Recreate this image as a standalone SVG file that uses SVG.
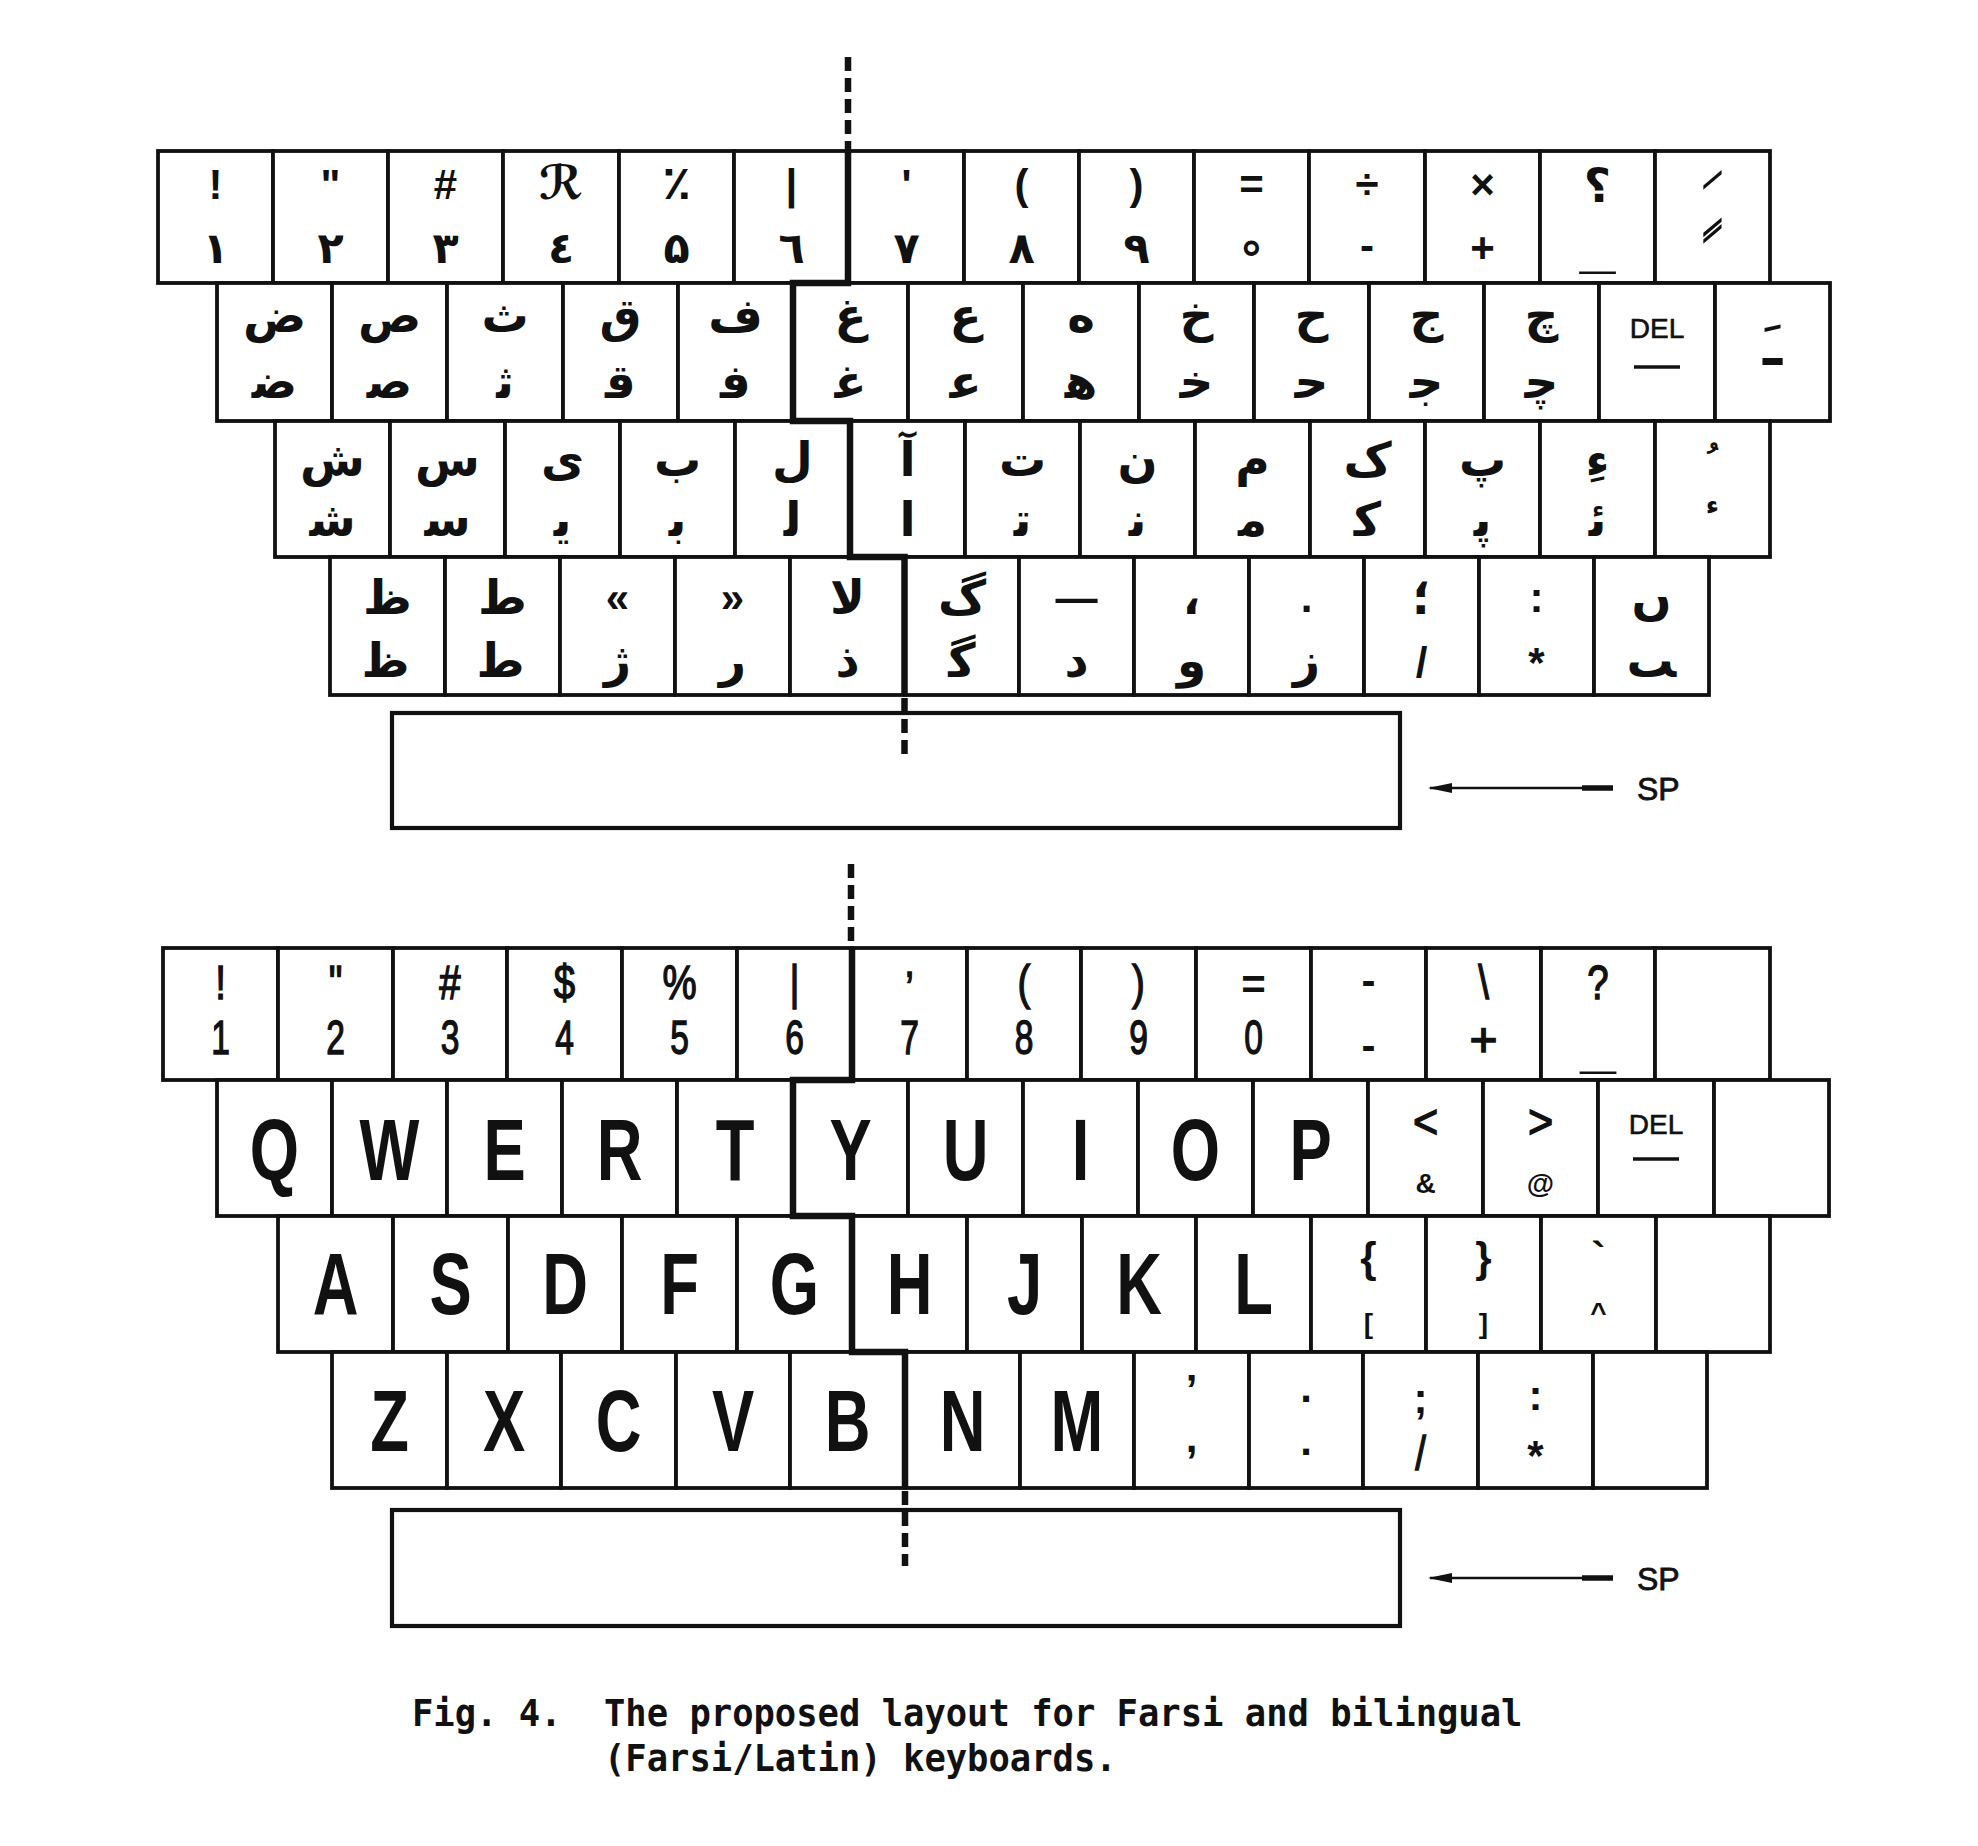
<svg xmlns="http://www.w3.org/2000/svg" width="1978" height="1846" viewBox="0 0 1978 1846">
<style>
.k{fill:#fff;stroke:#111;stroke-width:3.8}
.sb{fill:#fff;stroke:#111;stroke-width:4.2}
.ar{font-family:"DejaVu Sans",sans-serif;font-weight:bold;font-size:47px;text-anchor:middle;fill:#111}
.ad{font-family:"DejaVu Sans",sans-serif;font-weight:bold;font-size:43px;text-anchor:middle;fill:#111}
.mk{font-family:"DejaVu Sans",sans-serif;font-weight:bold;font-size:64px;text-anchor:middle;fill:#111}
.s{font-family:"Liberation Sans",Arial,sans-serif;font-weight:bold;font-size:42px;text-anchor:middle;fill:#111}
.L{font-family:"Liberation Sans",Arial,sans-serif;font-weight:bold;font-size:88px;text-anchor:middle;fill:#111}
.n{font-family:"Liberation Sans",Arial,sans-serif;font-size:48px;text-anchor:middle;fill:#111;stroke:#111;stroke-width:1.4}
.sm{font-family:"Liberation Sans",Arial,sans-serif;font-weight:bold;font-size:28px;text-anchor:middle;fill:#111}
.del{font-family:"Liberation Sans",Arial,sans-serif;font-size:28px;text-anchor:middle;fill:#111;stroke:#111;stroke-width:0.6}
.ul{stroke:#111;stroke-width:3.5}
.cap{font-family:"DejaVu Sans Mono","Liberation Mono",monospace;font-weight:bold;font-size:35.5px;fill:#111}
.spt{font-family:"Liberation Sans",Arial,sans-serif;font-size:32px;fill:#111;stroke:#111;stroke-width:0.8}
.div{fill:none;stroke:#111;stroke-width:6.5;stroke-linejoin:miter}
.dash{fill:none;stroke:#111;stroke-width:6.5;stroke-dasharray:14 7}
.arr{fill:none;stroke:#111;stroke-width:2.5}
.tail{stroke:#111;stroke-width:5.5}
</style>
<defs>
<marker id="ah" viewBox="0 0 24 12" refX="22" refY="6" markerWidth="24" markerHeight="12" markerUnits="userSpaceOnUse" orient="auto" preserveAspectRatio="none"><path d="M0,1 L24,6 L0,11 Z" fill="#111"/></marker>
</defs>

<!-- ================= TOP KEYBOARD (Farsi) ================= -->
<g id="top-keyboard">
<!-- Row 1 -->
<g id="t1-01"><rect class="k" x="158" y="151" width="115" height="132"/><text class="s" x="215.5" y="199">!</text><text class="ad" x="215.5" y="263">١</text></g>
<g id="t1-02"><rect class="k" x="273" y="151" width="115" height="132"/><text class="s" x="330.5" y="199">"</text><text class="ad" x="330.5" y="263">٢</text></g>
<g id="t1-03"><rect class="k" x="388" y="151" width="115" height="132"/><text class="s" x="445.5" y="199">#</text><text class="ad" x="445.5" y="263">٣</text></g>
<g id="t1-04"><rect class="k" x="503" y="151" width="116" height="132"/><text class="ar" x="561" y="199">ℛ</text><text class="ad" x="561" y="263">٤</text></g>
<g id="t1-05"><rect class="k" x="619" y="151" width="115" height="132"/><text class="ar" x="676.5" y="199">٪</text><text class="ad" x="676.5" y="263">۵</text></g>
<g id="t1-06"><rect class="k" x="734" y="151" width="115" height="132"/><text class="s" x="791.5" y="199">|</text><text class="ad" x="791.5" y="263">٦</text></g>
<g id="t1-07"><rect class="k" x="849" y="151" width="115" height="132"/><text class="s" x="906.5" y="199">'</text><text class="ad" x="906.5" y="263">٧</text></g>
<g id="t1-08"><rect class="k" x="964" y="151" width="115" height="132"/><text class="s" x="1021.5" y="199">(</text><text class="ad" x="1021.5" y="263">٨</text></g>
<g id="t1-09"><rect class="k" x="1079" y="151" width="115" height="132"/><text class="s" x="1136.5" y="199">)</text><text class="ad" x="1136.5" y="263">٩</text></g>
<g id="t1-10"><rect class="k" x="1194" y="151" width="115" height="132"/><text class="s" x="1251.5" y="199">=</text><text class="ar" x="1251.5" y="263">∘</text></g>
<g id="t1-11"><rect class="k" x="1309" y="151" width="116" height="132"/><text class="s" x="1367" y="199">÷</text><text class="s" x="1367" y="260">-</text></g>
<g id="t1-12"><rect class="k" x="1425" y="151" width="115" height="132"/><text class="s" x="1482.5" y="199">×</text><text class="s" x="1482.5" y="262">+</text></g>
<g id="t1-13"><rect class="k" x="1540" y="151" width="115" height="132"/><text class="ar" x="1597.5" y="202">؟</text><text class="s" x="1597.5" y="266" style="font-size:64px">_</text></g>
<g id="t1-14"><rect class="k" x="1655" y="151" width="115" height="132"/><text class="mk" transform="translate(1712.5,0) skewY(-32)"><tspan x="0" y="222">ﹶ</tspan><tspan x="0" y="276">ﹰ</tspan></text></g>
<!-- Row 2 -->
<g id="t2-01"><rect class="k" x="217" y="283" width="115" height="138"/><text class="ar" x="274.5" y="332">ض</text><text class="ar" x="274.5" y="398">ض&#x200D;</text></g>
<g id="t2-02"><rect class="k" x="332" y="283" width="115" height="138"/><text class="ar" x="389.5" y="332">ص</text><text class="ar" x="389.5" y="398">ص&#x200D;</text></g>
<g id="t2-03"><rect class="k" x="447" y="283" width="116" height="138"/><text class="ar" x="505" y="332">ث</text><text class="ar" x="505" y="398">ث&#x200D;</text></g>
<g id="t2-04"><rect class="k" x="563" y="283" width="115" height="138"/><text class="ar" x="620.5" y="332">ق</text><text class="ar" x="620.5" y="398">ق&#x200D;</text></g>
<g id="t2-05"><rect class="k" x="678" y="283" width="115" height="138"/><text class="ar" x="735.5" y="332">ف</text><text class="ar" x="735.5" y="398">ف&#x200D;</text></g>
<g id="t2-06"><rect class="k" x="793" y="283" width="115" height="138"/><text class="ar" x="850.5" y="332">غ</text><text class="ar" x="850.5" y="398">غ&#x200D;</text></g>
<g id="t2-07"><rect class="k" x="908" y="283" width="115" height="138"/><text class="ar" x="965.5" y="332">ع</text><text class="ar" x="965.5" y="398">ع&#x200D;</text></g>
<g id="t2-08"><rect class="k" x="1023" y="283" width="116" height="138"/><text class="ar" x="1081" y="332">ه</text><text class="ar" x="1081" y="398">ه&#x200D;</text></g>
<g id="t2-09"><rect class="k" x="1139" y="283" width="115" height="138"/><text class="ar" x="1196.5" y="332">خ</text><text class="ar" x="1196.5" y="398">خ&#x200D;</text></g>
<g id="t2-10"><rect class="k" x="1254" y="283" width="115" height="138"/><text class="ar" x="1311.5" y="332">ح</text><text class="ar" x="1311.5" y="398">ح&#x200D;</text></g>
<g id="t2-11"><rect class="k" x="1369" y="283" width="115" height="138"/><text class="ar" x="1426.5" y="332">ج</text><text class="ar" x="1426.5" y="398">ج&#x200D;</text></g>
<g id="t2-12"><rect class="k" x="1484" y="283" width="115" height="138"/><text class="ar" x="1541.5" y="332">چ</text><text class="ar" x="1541.5" y="398">چ&#x200D;</text></g>
<g id="t2-13"><rect class="k" x="1599" y="283" width="116" height="138"/><text class="del" x="1657" y="338">DEL</text><line class="ul" x1="1634" y1="367" x2="1680" y2="367"/></g>
<g id="t2-14"><rect class="k" x="1715" y="283" width="115" height="138"/><text class="ar" x="1772.5" y="365" style="font-size:56px">ـَ</text></g>
<!-- Row 3 -->
<g id="t3-01"><rect class="k" x="275" y="421" width="115" height="136"/><text class="ar" x="332.5" y="476">ش</text><text class="ar" x="332.5" y="536">ش&#x200D;</text></g>
<g id="t3-02"><rect class="k" x="390" y="421" width="115" height="136"/><text class="ar" x="447.5" y="476">س</text><text class="ar" x="447.5" y="536">س&#x200D;</text></g>
<g id="t3-03"><rect class="k" x="505" y="421" width="115" height="136"/><text class="ar" x="562.5" y="476">ی</text><text class="ar" x="562.5" y="536">ی&#x200D;</text></g>
<g id="t3-04"><rect class="k" x="620" y="421" width="115" height="136"/><text class="ar" x="677.5" y="476">ب</text><text class="ar" x="677.5" y="536">ب&#x200D;</text></g>
<g id="t3-05"><rect class="k" x="735" y="421" width="115" height="136"/><text class="ar" x="792.5" y="476">ل</text><text class="ar" x="792.5" y="536">ل&#x200D;</text></g>
<g id="t3-06"><rect class="k" x="850" y="421" width="115" height="136"/><text class="ar" x="907.5" y="476">آ</text><text class="ar" x="907.5" y="536">ا</text></g>
<g id="t3-07"><rect class="k" x="965" y="421" width="115" height="136"/><text class="ar" x="1022.5" y="476">ت</text><text class="ar" x="1022.5" y="536">ت&#x200D;</text></g>
<g id="t3-08"><rect class="k" x="1080" y="421" width="115" height="136"/><text class="ar" x="1137.5" y="476">ن</text><text class="ar" x="1137.5" y="536">ن&#x200D;</text></g>
<g id="t3-09"><rect class="k" x="1195" y="421" width="115" height="136"/><text class="ar" x="1252.5" y="476">م</text><text class="ar" x="1252.5" y="536">م&#x200D;</text></g>
<g id="t3-10"><rect class="k" x="1310" y="421" width="115" height="136"/><text class="ar" x="1367.5" y="476">ک</text><text class="ar" x="1367.5" y="536">ک&#x200D;</text></g>
<g id="t3-11"><rect class="k" x="1425" y="421" width="115" height="136"/><text class="ar" x="1482.5" y="476">پ</text><text class="ar" x="1482.5" y="536">پ&#x200D;</text></g>
<g id="t3-12"><rect class="k" x="1540" y="421" width="115" height="136"/><text class="ar" x="1597.5" y="476">ءِ</text><text class="ar" x="1597.5" y="536">ئ&#x200D;</text></g>
<g id="t3-13"><rect class="k" x="1655" y="421" width="115" height="136"/><text class="mk" x="1712.5" y="478" style="font-size:40px">ﹸ</text><text class="ar" x="1712.5" y="514" style="font-size:26px">ء</text></g>
<!-- Row 4 -->
<g id="t4-01"><rect class="k" x="330" y="557" width="115" height="138"/><text class="ar" x="387.5" y="614">ظ</text><text class="ar" x="387.5" y="677">ظ&#x200D;</text></g>
<g id="t4-02"><rect class="k" x="445" y="557" width="115" height="138"/><text class="ar" x="502.5" y="614">ط</text><text class="ar" x="502.5" y="677">ط&#x200D;</text></g>
<g id="t4-03"><rect class="k" x="560" y="557" width="115" height="138"/><text class="s" x="617.5" y="612">«</text><text class="ar" x="617.5" y="677">ژ</text></g>
<g id="t4-04"><rect class="k" x="675" y="557" width="115" height="138"/><text class="s" x="732.5" y="612">»</text><text class="ar" x="732.5" y="677">ر</text></g>
<g id="t4-05"><rect class="k" x="790" y="557" width="115" height="138"/><text class="ar" x="847.5" y="614">لا</text><text class="ar" x="847.5" y="677">ذ</text></g>
<g id="t4-06"><rect class="k" x="905" y="557" width="114" height="138"/><text class="ar" x="962" y="614">گ</text><text class="ar" x="962" y="677">گ&#x200D;</text></g>
<g id="t4-07"><rect class="k" x="1019" y="557" width="115" height="138"/><text class="s" x="1076.5" y="612">—</text><text class="ar" x="1076.5" y="677">د</text></g>
<g id="t4-08"><rect class="k" x="1134" y="557" width="115" height="138"/><text class="ar" x="1191.5" y="614">،</text><text class="ar" x="1191.5" y="677">و</text></g>
<g id="t4-09"><rect class="k" x="1249" y="557" width="115" height="138"/><text class="s" x="1306.5" y="612">.</text><text class="ar" x="1306.5" y="677">ز</text></g>
<g id="t4-10"><rect class="k" x="1364" y="557" width="115" height="138"/><text class="ar" x="1421.5" y="614">؛</text><text class="s" x="1421.5" y="677">/</text></g>
<g id="t4-11"><rect class="k" x="1479" y="557" width="115" height="138"/><text class="s" x="1536.5" y="612">:</text><text class="s" x="1536.5" y="677">*</text></g>
<g id="t4-12"><rect class="k" x="1594" y="557" width="115" height="138"/><text class="ar" x="1651.5" y="614">ں</text><text class="ar" x="1651.5" y="677">&#x200D;ٮ</text></g>
<!-- Space bar -->
<g id="t-space"><rect class="sb" x="392" y="713" width="1008" height="115"/></g>
<g id="t-sp-label"><text class="spt" x="1637" y="800">SP</text></g>
</g>

<!-- ================= BOTTOM KEYBOARD (Latin) ================= -->
<g id="bottom-keyboard">
<!-- Row 1 -->
<g id="b1-01"><rect class="k" x="163" y="948" width="115" height="132"/><text class="n" transform="translate(220.5,999) scale(0.8,1)">!</text><text class="n" transform="translate(220.5,1054) scale(0.7,1)">1</text></g>
<g id="b1-02"><rect class="k" x="278" y="948" width="115" height="132"/><text class="n" transform="translate(335.5,999) scale(0.8,1)">"</text><text class="n" transform="translate(335.5,1054) scale(0.7,1)">2</text></g>
<g id="b1-03"><rect class="k" x="393" y="948" width="114" height="132"/><text class="n" transform="translate(450,999) scale(0.8,1)">#</text><text class="n" transform="translate(450,1054) scale(0.7,1)">3</text></g>
<g id="b1-04"><rect class="k" x="507" y="948" width="115" height="132"/><text class="n" transform="translate(564.5,999) scale(0.8,1)">$</text><text class="n" transform="translate(564.5,1054) scale(0.7,1)">4</text></g>
<g id="b1-05"><rect class="k" x="622" y="948" width="115" height="132"/><text class="n" transform="translate(679.5,999) scale(0.8,1)">%</text><text class="n" transform="translate(679.5,1054) scale(0.7,1)">5</text></g>
<g id="b1-06"><rect class="k" x="737" y="948" width="115" height="132"/><text class="n" transform="translate(794.5,999) scale(0.8,1)">|</text><text class="n" transform="translate(794.5,1054) scale(0.7,1)">6</text></g>
<g id="b1-07"><rect class="k" x="852" y="948" width="115" height="132"/><text class="n" transform="translate(909.5,1005) scale(0.8,1)">’</text><text class="n" transform="translate(909.5,1054) scale(0.7,1)">7</text></g>
<g id="b1-08"><rect class="k" x="967" y="948" width="114" height="132"/><text class="n" transform="translate(1024,999) scale(0.8,1)">(</text><text class="n" transform="translate(1024,1054) scale(0.7,1)">8</text></g>
<g id="b1-09"><rect class="k" x="1081" y="948" width="115" height="132"/><text class="n" transform="translate(1138.5,999) scale(0.8,1)">)</text><text class="n" transform="translate(1138.5,1054) scale(0.7,1)">9</text></g>
<g id="b1-10"><rect class="k" x="1196" y="948" width="115" height="132"/><text class="s" x="1253.5" y="999">=</text><text class="n" transform="translate(1253.5,1054) scale(0.7,1)">0</text></g>
<g id="b1-11"><rect class="k" x="1311" y="948" width="115" height="132"/><text class="s" x="1368.5" y="995">-</text><text class="s" x="1368.5" y="1060">-</text></g>
<g id="b1-12"><rect class="k" x="1426" y="948" width="115" height="132"/><text class="n" transform="translate(1483.5,999) scale(0.8,1)">\</text><text class="n" transform="translate(1483.5,1056)">+</text></g>
<g id="b1-13"><rect class="k" x="1541" y="948" width="114" height="132"/><text class="n" transform="translate(1598,999) scale(0.8,1)">?</text><text class="s" x="1598" y="1066" style="font-size:64px">_</text></g>
<g id="b1-14"><rect class="k" x="1655" y="948" width="115" height="132"/></g>
<!-- Row 2 -->
<g id="b2-01"><rect class="k" x="217" y="1080" width="115" height="136"/><text class="L" transform="translate(274.5,1180) scale(0.72,1)">Q</text></g>
<g id="b2-02"><rect class="k" x="332" y="1080" width="115" height="136"/><text class="L" transform="translate(389.5,1180) scale(0.72,1)">W</text></g>
<g id="b2-03"><rect class="k" x="447" y="1080" width="115" height="136"/><text class="L" transform="translate(504.5,1180) scale(0.72,1)">E</text></g>
<g id="b2-04"><rect class="k" x="562" y="1080" width="115" height="136"/><text class="L" transform="translate(619.5,1180) scale(0.72,1)">R</text></g>
<g id="b2-05"><rect class="k" x="677" y="1080" width="116" height="136"/><text class="L" transform="translate(735,1180) scale(0.72,1)">T</text></g>
<g id="b2-06"><rect class="k" x="793" y="1080" width="115" height="136"/><text class="L" transform="translate(850.5,1180) scale(0.72,1)">Y</text></g>
<g id="b2-07"><rect class="k" x="908" y="1080" width="115" height="136"/><text class="L" transform="translate(965.5,1180) scale(0.72,1)">U</text></g>
<g id="b2-08"><rect class="k" x="1023" y="1080" width="115" height="136"/><text class="L" transform="translate(1080.5,1180) scale(0.72,1)">I</text></g>
<g id="b2-09"><rect class="k" x="1138" y="1080" width="115" height="136"/><text class="L" transform="translate(1195.5,1180) scale(0.72,1)">O</text></g>
<g id="b2-10"><rect class="k" x="1253" y="1080" width="115" height="136"/><text class="L" transform="translate(1310.5,1180) scale(0.72,1)">P</text></g>
<g id="b2-11"><rect class="k" x="1368" y="1080" width="115" height="136"/><text class="n" transform="translate(1425.5,1138) scale(0.9,1)">&lt;</text><text class="sm" x="1425.5" y="1193">&amp;</text></g>
<g id="b2-12"><rect class="k" x="1483" y="1080" width="115" height="136"/><text class="n" transform="translate(1540.5,1138) scale(0.9,1)">&gt;</text><text class="sm" x="1540.5" y="1193">@</text></g>
<g id="b2-13"><rect class="k" x="1598" y="1080" width="116" height="136"/><text class="del" x="1656" y="1134">DEL</text><line class="ul" x1="1633" y1="1159" x2="1679" y2="1159"/></g>
<g id="b2-14"><rect class="k" x="1714" y="1080" width="115" height="136"/></g>
<!-- Row 3 -->
<g id="b3-01"><rect class="k" x="278" y="1216" width="115" height="136"/><text class="L" transform="translate(335.5,1314) scale(0.72,1)">A</text></g>
<g id="b3-02"><rect class="k" x="393" y="1216" width="115" height="136"/><text class="L" transform="translate(450.5,1314) scale(0.72,1)">S</text></g>
<g id="b3-03"><rect class="k" x="508" y="1216" width="114" height="136"/><text class="L" transform="translate(565,1314) scale(0.72,1)">D</text></g>
<g id="b3-04"><rect class="k" x="622" y="1216" width="115" height="136"/><text class="L" transform="translate(679.5,1314) scale(0.72,1)">F</text></g>
<g id="b3-05"><rect class="k" x="737" y="1216" width="115" height="136"/><text class="L" transform="translate(794.5,1314) scale(0.72,1)">G</text></g>
<g id="b3-06"><rect class="k" x="852" y="1216" width="115" height="136"/><text class="L" transform="translate(909.5,1314) scale(0.72,1)">H</text></g>
<g id="b3-07"><rect class="k" x="967" y="1216" width="115" height="136"/><text class="L" transform="translate(1024.5,1314) scale(0.72,1)">J</text></g>
<g id="b3-08"><rect class="k" x="1082" y="1216" width="114" height="136"/><text class="L" transform="translate(1139,1314) scale(0.72,1)">K</text></g>
<g id="b3-09"><rect class="k" x="1196" y="1216" width="115" height="136"/><text class="L" transform="translate(1253.5,1314) scale(0.72,1)">L</text></g>
<g id="b3-10"><rect class="k" x="1311" y="1216" width="115" height="136"/><text class="s" x="1368.5" y="1272">{</text><text class="sm" x="1368.5" y="1333">[</text></g>
<g id="b3-11"><rect class="k" x="1426" y="1216" width="115" height="136"/><text class="s" x="1483.5" y="1272">}</text><text class="sm" x="1483.5" y="1333">]</text></g>
<g id="b3-12"><rect class="k" x="1541" y="1216" width="115" height="136"/><text class="s" x="1598.5" y="1272">`</text><text class="sm" x="1598.5" y="1322">^</text></g>
<g id="b3-13"><rect class="k" x="1656" y="1216" width="114" height="136"/></g>
<!-- Row 4 -->
<g id="b4-01"><rect class="k" x="332" y="1352" width="115" height="136"/><text class="L" transform="translate(389.5,1451) scale(0.72,1)">Z</text></g>
<g id="b4-02"><rect class="k" x="447" y="1352" width="114" height="136"/><text class="L" transform="translate(504,1451) scale(0.72,1)">X</text></g>
<g id="b4-03"><rect class="k" x="561" y="1352" width="115" height="136"/><text class="L" transform="translate(618.5,1451) scale(0.72,1)">C</text></g>
<g id="b4-04"><rect class="k" x="676" y="1352" width="114" height="136"/><text class="L" transform="translate(733,1451) scale(0.72,1)">V</text></g>
<g id="b4-05"><rect class="k" x="790" y="1352" width="115" height="136"/><text class="L" transform="translate(847.5,1451) scale(0.72,1)">B</text></g>
<g id="b4-06"><rect class="k" x="905" y="1352" width="115" height="136"/><text class="L" transform="translate(962.5,1451) scale(0.72,1)">N</text></g>
<g id="b4-07"><rect class="k" x="1020" y="1352" width="114" height="136"/><text class="L" transform="translate(1077,1451) scale(0.72,1)">M</text></g>
<g id="b4-08"><rect class="k" x="1134" y="1352" width="115" height="136"/><text class="s" x="1191.5" y="1404">’</text><text class="s" x="1191.5" y="1452">,</text></g>
<g id="b4-09"><rect class="k" x="1249" y="1352" width="114" height="136"/><text class="s" x="1306" y="1402">.</text><text class="s" x="1306" y="1455">.</text></g>
<g id="b4-10"><rect class="k" x="1363" y="1352" width="115" height="136"/><text class="s" x="1420.5" y="1413">;</text><text class="n" transform="translate(1420.5,1470) scale(0.8,1)">/</text></g>
<g id="b4-11"><rect class="k" x="1478" y="1352" width="115" height="136"/><text class="s" x="1535.5" y="1410">:</text><text class="s" x="1535.5" y="1470">*</text></g>
<g id="b4-12"><rect class="k" x="1593" y="1352" width="114" height="136"/></g>
<!-- Space bar -->
<g id="b-space"><rect class="sb" x="392" y="1510" width="1008" height="116"/></g>
<g id="b-sp-label"><text class="spt" x="1637" y="1590">SP</text></g>
</g>

<!-- ================= CONNECTORS ================= -->
<g id="connectors">
<path class="dash" d="M848,57 V151"/>
<path class="div" d="M848,151 V283 H793 V421 H850 V557 H904.5 V695"/>
<path class="dash" d="M904.5,698 V756"/>
<path class="dash" d="M851,864 V948"/>
<path class="div" d="M852,948 V1080 H793 V1216 H852 V1352 H905 V1488"/>
<path class="dash" d="M905,1491 V1566"/>
<line class="arr" x1="1612" y1="788" x2="1430" y2="788" marker-end="url(#ah)"/>
<line class="tail" x1="1582" y1="788" x2="1613" y2="788"/>
<line class="arr" x1="1612" y1="1578" x2="1430" y2="1578" marker-end="url(#ah)"/>
<line class="tail" x1="1582" y1="1578" x2="1613" y2="1578"/>
</g>

<!-- ================= CAPTION ================= -->
<g id="caption">
<text class="cap" transform="translate(412,1726) scale(1,1.05)">Fig. 4.</text>
<text class="cap" transform="translate(604,1726) scale(1,1.05)">The proposed layout for Farsi and bilingual</text>
<text class="cap" transform="translate(604,1771) scale(1,1.05)">(Farsi/Latin) keyboards.</text>
</g>
</svg>
